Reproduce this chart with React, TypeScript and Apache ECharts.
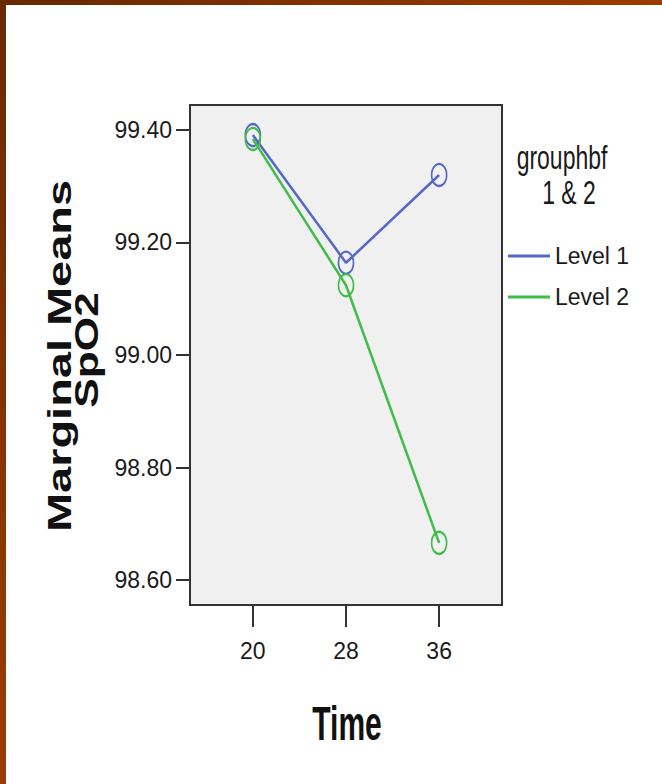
import React, { useEffect, useRef } from "react";
import * as echarts from "echarts";

const timePoints = [20, 28, 36];
const level1Values = [99.391, 99.164, 99.32];
const level2Values = [99.384, 99.124, 98.666];
const yTickValues = [98.6, 98.8, 99.0, 99.2, 99.4];
const seriesNames = ["Level 1", "Level 2"];
const legendTitle = ["grouphbf", "1 & 2"];
const yTitleLines = ["Marginal Means", "SpO2"];
const xTitle = "Time";

const BLUE = "#5468c4";
const GREEN = "#3fbd4a";
const SANS = "'Liberation Sans', Arial, sans-serif";
const LABEL_SIZE = 23;

export default function App() {
  const ref = useRef<HTMLDivElement>(null);
  useEffect(() => {
    if (!ref.current) return;
    const chart = echarts.init(ref.current, null, { renderer: "svg" });
    const mk = (vals: number[]) => timePoints.map((t, i) => [t, vals[i]]);
    const colors = [BLUE, GREEN];
    const allValues = [level1Values, level2Values];
    chart.setOption({
      animation: false,
      backgroundColor: "#ffffff",
      grid: {
        left: 190,
        top: 105,
        width: 312,
        height: 500,
        show: true,
        backgroundColor: "#f0f0f0",
        borderColor: "#333333",
        borderWidth: 2,
      },
      xAxis: {
        type: "value",
        min: 14.6,
        max: 41.4,
        splitLine: { show: false },
        axisLine: { show: true, lineStyle: { color: "#333333", width: 2 } },
        axisTick: { show: true, customValues: timePoints, length: 22, lineStyle: { color: "#333333", width: 2 } },
        axisLabel: {
          customValues: timePoints,
          margin: 34,
          fontFamily: SANS,
          fontSize: LABEL_SIZE,
          color: "#1a1a1a",
        },
      },
      yAxis: {
        type: "value",
        min: 98.5556,
        max: 99.4444,
        splitLine: { show: false },
        axisLine: { show: true, lineStyle: { color: "#333333", width: 2 } },
        axisTick: { show: true, customValues: yTickValues, length: 14, lineStyle: { color: "#333333", width: 2 } },
        axisLabel: {
          customValues: yTickValues,
          margin: 18,
          fontFamily: SANS,
          fontSize: LABEL_SIZE,
          color: "#1a1a1a",
          formatter: (v: number) => v.toFixed(2),
        },
      },
      legend: {
        orient: "vertical",
        left: 508,
        top: 244,
        padding: 0,
        itemGap: 17,
        itemWidth: 42,
        itemHeight: 3,
        icon: "rect",
        data: seriesNames.map((n, i) => ({ name: n, itemStyle: { color: colors[i], borderWidth: 0 } })),
        textStyle: { fontFamily: SANS, fontSize: LABEL_SIZE, color: "#1a1a1a", lineHeight: 24, padding: [0, 0, 0, 0] },
      },
      series: seriesNames.map((n, i) => ({
        name: n,
        type: "line",
        data: mk(allValues[i]),
        symbol: "circle",
        symbolSize: [15, 22],
        showSymbol: true,
        itemStyle: { color: "transparent", borderColor: colors[i], borderWidth: 2 },
        lineStyle: { color: colors[i], width: 2.5 },
        z: 3 + i,
      })),
      graphic: [
        {
          type: "rect",
          shape: { x: 0, y: 0, width: 662, height: 5 },
          style: {
            fill: new echarts.graphic.LinearGradient(0, 0, 1, 0, [
              { offset: 0, color: "#682800" },
              { offset: 1, color: "#9e3b00" },
            ]),
          },
          silent: true,
        },
        {
          type: "rect",
          shape: { x: 0, y: 0, width: 6, height: 784 },
          style: {
            fill: new echarts.graphic.LinearGradient(0, 0, 0, 1, [
              { offset: 0, color: "#6a2a00" },
              { offset: 1, color: "#9c3d00" },
            ]),
          },
          silent: true,
        },
        {
          type: "text",
          x: 59,
          y: 356,
          rotation: Math.PI / 2,
          scaleX: 1.38,
          style: {
            text: yTitleLines[0],
            font: `bold 34px ${SANS}`,
            fill: "#111111",
            align: "center",
            verticalAlign: "middle",
          },
        },
        {
          type: "text",
          x: 86,
          y: 350,
          rotation: Math.PI / 2,
          scaleX: 1.3,
          style: {
            text: yTitleLines[1],
            font: `bold 34px ${SANS}`,
            fill: "#111111",
            align: "center",
            verticalAlign: "middle",
          },
        },
        {
          type: "text",
          x: 347,
          y: 723,
          scaleY: 1.6,
          style: {
            text: xTitle,
            font: `bold 30px ${SANS}`,
            fill: "#111111",
            align: "center",
            verticalAlign: "middle",
          },
        },
        {
          type: "text",
          x: 562,
          y: 157,
          scaleY: 1.45,
          style: {
            text: legendTitle[0],
            font: `${LABEL_SIZE}px ${SANS}`,
            fill: "#1a1a1a",
            align: "center",
            verticalAlign: "middle",
          },
        },
        {
          type: "text",
          x: 569,
          y: 192,
          scaleY: 1.45,
          style: {
            text: legendTitle[1],
            font: `${LABEL_SIZE}px ${SANS}`,
            fill: "#1a1a1a",
            align: "center",
            verticalAlign: "middle",
          },
        },
      ],
    });
    return () => chart.dispose();
  }, []);
  return (
    <div
      ref={ref}
      style={{ position: "fixed", left: 0, top: 0, width: 662, height: 784, background: "#ffffff" }}
    />
  );
}
